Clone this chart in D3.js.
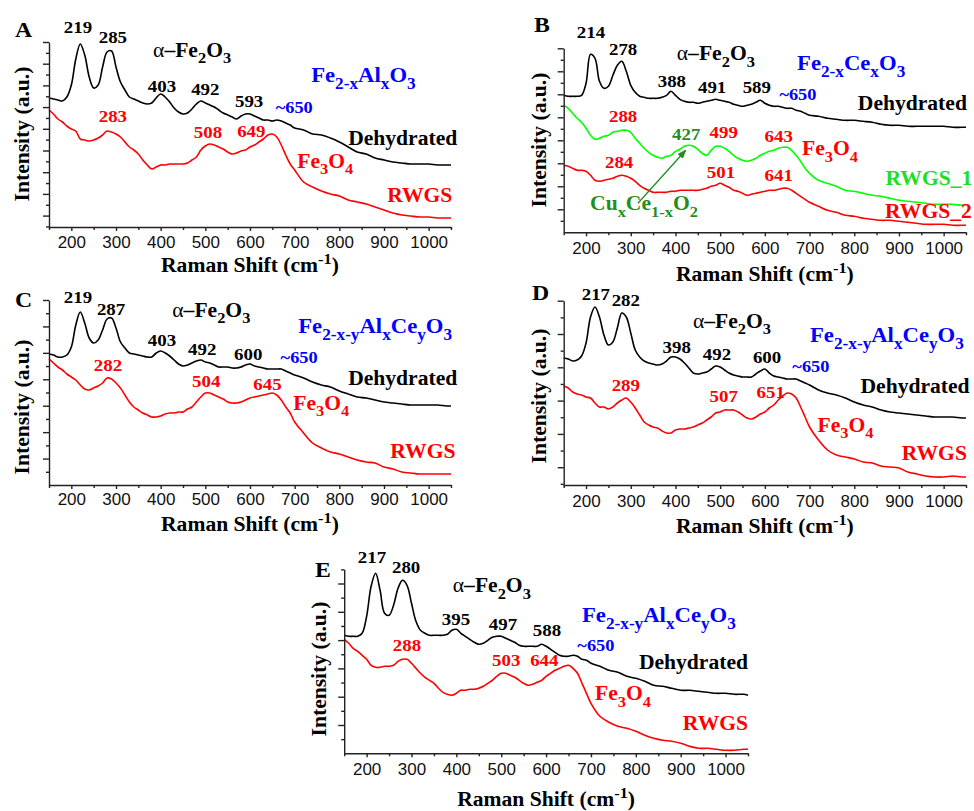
<!DOCTYPE html>
<html>
<head>
<meta charset="utf-8">
<script src="https://cdn.jsdelivr.net/npm/d3@7"></script>
<style>
  body { margin: 0; background: #fff; }
  svg { display: block; }
</style>
</head>
<body>
<svg id="fig" width="974" height="811"></svg>
<script>
// Raman shift grid (cm-1) shared by every spectrum
const shift = [150,160,170,180,190,200,210,220,230,240,250,260,270,280,290,300,310,320,330,340,
  350,360,370,380,390,400,410,420,430,440,450,460,470,480,490,500,510,520,530,540,
  550,560,570,580,590,600,610,620,630,640,650,660,670,680,690,700,
  720,740,760,780,800,820,840,860,880,900,920,940,960,980,1000,1020,1040,1050];

// intensities (a.u.)
const aDry = [129,128,127,126,130,142,168,183,172,150, 139,142,160,175,176,160,145,137,130,128,
  126,124,123,124,129,133,130,125,119,115, 113,114,118,123,126,124,122,120,117,114,
  112,110,108,111,113,113,111,109,107,107, 106,107,106,104,102,99,
  97,93,92,89,85,80,75,73,69,67,65,64,63,63,63,62,62,62];
const aRwgs = [117,113,108,105,101,98,96,88,87,86, 87,89,92,96,95,93,90,85,80,77,
  73,67,62,58,60,62,62,63,63,63, 63,64,67,70,77,81,83,82,80,78,
  75,73,74,76,77,80,82,85,88,92, 93,90,82,72,63,57,
  45,40,36,33,31,27,25,23,20,17,14,12,11,10,10,9,9,9];

const bDry = [137,136,136,136,137,149,178,174,151,144, 146,157,167,171,161,147,140,136,135,134,
  134,134,135,137,141,137,133,131,130,130, 129,130,131,132,133,132,131,130,128,127,
  126,127,128,130,132,129,127,126,126,125, 124,124,122,121,119,117,
  116,114,113,112,112,111,110,108,107,107,106,106,106,106,106,105,105,105];
const bRwgs1 = [127,124,119,114,110,104,97,93,94,96, 97,100,101,102,102,100,94,89,84,80,
  77,75,74,76,77,81,83,86,87,86, 83,79,77,82,86,86,84,81,77,74,
  72,71,72,74,77,79,81,82,84,85, 85,82,77,71,64,59,
  52,49,46,42,41,39,37,36,34,32,31,30,29,28,28,28,27,27];
const bRwgs2 = [67,66,64,62,62,61,57,52,51,52, 53,54,56,57,56,54,51,47,44,42,
  40,40,40,40,41,41,42,42,42,42, 42,43,44,46,47,49,47,45,42,41,
  39,37,38,39,40,41,42,42,43,44, 44,42,39,36,33,30,
  26,22,20,17,16,14,13,12,12,11,10,9,8,8,8,7,7,7];

const cDry = [131,130,128,128,130,138,160,173,162,147, 142,145,155,166,167,157,143,137,132,131,
  130,129,128,128,132,134,132,129,125,121, 119,120,122,124,125,123,122,120,118,118,
  118,117,117,118,120,121,119,118,117,116, 116,116,116,114,112,110,
  107,103,100,98,94,91,88,87,85,83,82,81,80,80,80,80,79,79];
const cRwgs = [126,122,118,115,111,108,105,100,96,95, 97,99,102,107,106,102,97,90,83,78,
  75,72,70,68,68,69,71,72,72,73, 73,76,78,83,88,92,92,90,88,86,
  83,82,82,83,85,87,88,89,90,91, 92,90,85,78,72,63,
  52,42,37,33,31,28,25,23,22,18,16,13,12,11,11,11,11,11];

const dDry = [127,126,124,125,129,142,168,178,168,150, 140,143,157,172,168,152,135,128,124,122,
  121,120,121,124,128,128,126,122,117,112, 111,112,113,116,119,118,115,112,110,109,
  108,108,108,111,114,116,112,109,108,107, 106,106,106,104,102,100,
  95,92,90,87,83,80,78,75,73,72,71,70,69,68,68,68,67,67];
const dRwgs = [99,97,93,91,90,88,87,82,78,78, 76,78,82,85,87,83,77,70,63,60,
  58,57,54,52,52,55,56,56,57,58, 60,62,65,68,72,73,75,75,75,73,
  70,67,66,68,71,73,77,80,85,89, 92,91,87,78,68,58,
  45,35,30,28,26,23,22,19,18,17,13,11,9,8,8,9,8,8];

const eDry = [118,117,117,117,120,137,167,180,163,140, 138,148,165,173,168,150,132,123,120,118,
  118,118,118,119,123,124,120,117,114,111, 109,110,113,116,117,117,115,113,111,108,
  107,107,107,107,109,107,104,101,98,97, 97,98,97,94,93,90,
  87,83,81,77,75,72,68,67,65,63,63,62,61,60,60,59,59,58];
const eRwgs = [114,110,105,102,98,94,88,86,86,87, 87,88,92,94,94,90,85,80,76,73,
  70,65,61,59,58,60,63,63,64,64, 65,67,70,73,77,80,80,78,76,73,
  70,68,69,71,73,77,80,83,85,87, 88,85,80,70,60,50,
  37,31,27,25,22,18,15,13,12,10,7,5,5,4,3,3,4,4];

const xMajor = [200,300,400,500,600,700,800,900,1000];
const xMinor = [150,250,350,450,550,650,750,850,950,1050];

// ---------- styling ----------
const SERIF = "'Liberation Serif','Times New Roman',serif";
const SANS = "'Liberation Sans',Arial,sans-serif";
const BLACK = "#000", RED = "#ff0000", GREEN = "#00ff00", BLUE = "#0000ff",
      DKGREEN = "#1f8f1f", LGREEN = "#22dd22";
const NUM = 17.5, NAME = 20, FORM = 21, TILDE = 17;

const alpha = [["α", "n"], "–Fe", ["2", "sub"], "O", ["3", "sub"]];
const feAl = ["Fe", ["2-x", "sub"], "Al", ["x", "sub"], "O", ["3", "sub"]];
const feCe = ["Fe", ["2-x", "sub"], "Ce", ["x", "sub"], "O", ["3", "sub"]];
const feAlCe = ["Fe", ["2-x-y", "sub"], "Al", ["x", "sub"], "Ce", ["y", "sub"], "O", ["3", "sub"]];
const fe3o4 = ["Fe", ["3", "sub"], "O", ["4", "sub"]];
const cuce = ["Cu", ["x", "sub"], "Ce", ["1-x", "sub"], "O", ["2", "sub"]];

const panels = [
  { id: "A", left: 49, right: 451, top: 42, bottom: 227, yMax: 185, yStep: 21.7, yFrom: "top",
    tickY: 21, xTitleY: 272, yTitleX: 29, yTitleY: 134, letter: [15, 37],
    series: [[aDry, BLACK], [aRwgs, RED]],
    notes: [
      ["219", 215, 194, BLACK, NUM], ["285", 293, 184, BLACK, NUM],
      [alpha, 383, 170, BLACK, NAME, "start"],
      ["403", 403, 135, BLACK, NUM], ["492", 500, 132, BLACK, NUM], ["593", 598, 120, BLACK, NUM],
      ["~650", 699, 114, BLUE, TILDE],
      [feAl, 737, 145, BLUE, FORM, "start"],
      ["Dehydrated", 1064, 82, BLACK, NAME, "end"],
      ["283", 293, 105, RED, NUM], ["508", 506, 89, RED, NUM], ["649", 603, 90, RED, NUM],
      [fe3o4, 706, 59, RED, NAME, "start"],
      ["RWGS", 1053, 25, RED, NAME, "end"]
    ] },
  { id: "B", left: 563.7, right: 966, top: 48.3, bottom: 232.3, yMax: 184, yStep: 23, yFrom: "top",
    tickY: 21.5, xTitleY: 281, yTitleX: 546, yTitleY: 140, letter: [534, 32],
    series: [[bDry, BLACK], [bRwgs1, GREEN], [bRwgs2, RED]],
    notes: [
      ["214", 211, 194, BLACK, NUM], ["278", 283, 177, BLACK, NUM],
      [alpha, 403, 172, BLACK, NAME, "start"],
      [feCe, 672, 162, BLUE, FORM, "start"],
      ["388", 392, 145, BLACK, NUM], ["491", 482, 139, BLACK, NUM], ["589", 582, 139, BLACK, NUM],
      ["~650", 674, 132, BLUE, TILDE],
      ["Dehydrated", 1052, 122, BLACK, NAME, "end"],
      ["288", 283, 110, RED, NUM], ["427", 424, 92, DKGREEN, NUM], ["499", 508, 94, RED, NUM],
      ["643", 631, 90, RED, NUM],
      [fe3o4, 683, 77, RED, NAME, "start"],
      ["RWGS_1", 1064, 47, LGREEN, NAME, "end"],
      ["284", 274, 64, RED, NUM], ["501", 502, 54, RED, NUM], ["641", 631, 51, RED, NUM],
      ["RWGS_2", 1063, 14, RED, NAME, "end"],
      [cuce, 209, 22, DKGREEN, NAME, "start"]
    ],
    arrow: [[316, 29], [423, 82]] },
  { id: "C", left: 49, right: 451, top: 300, bottom: 485, yMax: 185, yStep: 26.43, yFrom: "bottom",
    tickY: 20, xTitleY: 531, yTitleX: 29, yTitleY: 407, letter: [15, 307],
    series: [[cDry, BLACK], [cRwgs, RED]],
    notes: [
      ["219", 215, 182, BLACK, NUM], ["287", 289, 170, BLACK, NUM],
      [alpha, 426, 168, BLACK, NAME, "start"],
      [feAlCe, 708, 152, BLUE, FORM, "start"],
      ["403", 403, 139, BLACK, NUM], ["492", 493, 130, BLACK, NUM], ["600", 596, 125, BLACK, NUM],
      ["~650", 710, 122, BLUE, TILDE],
      ["Dehydrated", 1064, 100, BLACK, NAME, "end"],
      ["282", 282, 114, RED, NUM], ["504", 502, 98, RED, NUM], ["645", 639, 95, RED, NUM],
      [fe3o4, 697, 75, RED, NAME, "start"],
      ["RWGS", 1060, 27, RED, NAME, "end"]
    ] },
  { id: "D", left: 563.7, right: 966, top: 300.7, bottom: 485, yMax: 184.3, yStep: 33.3, yFrom: "top",
    tickY: 22, xTitleY: 533, yTitleX: 546, yTitleY: 396, letter: [532, 300],
    series: [[dDry, BLACK], [dRwgs, RED]],
    notes: [
      ["217", 222, 185, BLACK, NUM], ["282", 289, 179, BLACK, NUM],
      [alpha, 439, 157, BLACK, NAME, "start"],
      [feAlCe, 701, 143, BLUE, FORM, "start"],
      ["398", 403, 132, BLACK, NUM], ["492", 493, 125, BLACK, NUM], ["600", 605, 122, BLACK, NUM],
      ["~650", 703, 113, BLUE, TILDE],
      ["Dehydrated", 1058, 92, BLACK, NAME, "end"],
      ["289", 289, 94, RED, NUM], ["507", 508, 83, RED, NUM], ["651", 613, 87, RED, NUM],
      [fe3o4, 718, 53, RED, NAME, "start"],
      ["RWGS", 1052, 25, RED, NAME, "end"]
    ] },
  { id: "E", left: 344.2, right: 748, top: 569.3, bottom: 753.3, yMax: 184, yStep: 28.3, yFrom: "bottom",
    tickY: 22, xTitleY: 806, yTitleX: 326, yTitleY: 669, letter: [315, 577],
    series: [[eDry, BLACK], [eRwgs, RED]],
    notes: [
      ["217", 212, 190, BLACK, NUM], ["280", 288, 180, BLACK, NUM],
      [alpha, 392, 161, BLACK, NAME, "start"],
      [feAlCe, 680, 131, BLUE, FORM, "start"],
      ["395", 399, 128, BLACK, NUM], ["497", 504, 123, BLACK, NUM], ["588", 602, 117, BLACK, NUM],
      ["~650", 711, 102, BLUE, TILDE],
      ["Dehydrated", 1050, 84, BLACK, NAME, "end"],
      ["288", 290, 102, RED, NUM], ["503", 511, 87, RED, NUM], ["644", 596, 87, RED, NUM],
      [fe3o4, 709, 53, RED, NAME, "start"],
      ["RWGS", 1050, 23, RED, NAME, "end"]
    ] }
];

const svg = d3.select("#fig");
svg.append("rect").attr("width", 974).attr("height", 811).attr("fill", "#fff");

svg.append("defs").append("marker")
  .attr("id", "head").attr("viewBox", "0 0 10 10").attr("refX", 9).attr("refY", 5)
  .attr("markerWidth", 7).attr("markerHeight", 7).attr("orient", "auto")
  .append("path").attr("d", "M0,1 L10,5 L0,9 z").attr("fill", DKGREEN);

// text with sub/superscripts, slightly widened like the original scan
function rich(g, x, y, parts, o) {
  const fs = o.size;
  const t = g.append("text")
    .attr("transform", `translate(${x},${y})${o.rotate ? " rotate(-90)" : ""} scale(${o.sx || 1.08},1)`)
    .attr("font-family", o.family || SERIF)
    .attr("font-weight", "bold")
    .attr("font-size", fs)
    .attr("fill", o.color || BLACK)
    .attr("text-anchor", o.anchor || "start");
  let cur = 0;
  (typeof parts === "string" ? [parts] : parts).forEach(p => {
    const [s, kind] = Array.isArray(p) ? p : [p];
    const target = kind === "sub" ? fs * 0.32 : kind === "sup" ? -fs * 0.42 : 0;
    const ts = t.append("tspan").text(s).attr("dy", target - cur);
    if (kind === "sub" || kind === "sup") ts.attr("font-size", fs * 0.76);
    if (kind === "n") ts.attr("font-weight", "normal");
    cur = target;
  });
  return t;
}

function yTicks(p) {
  const major = [], minor = [];
  if (p.yFrom === "top") {
    for (let v = p.yMax; v > 0.5; v -= p.yStep) major.push(v);
    major.forEach(v => { if (v - p.yStep / 2 >= -0.5) minor.push(Math.max(v - p.yStep / 2, 0)); });
  } else {
    for (let v = p.yStep; v <= p.yMax + 0.5; v += p.yStep) major.push(v);
    for (let v = p.yStep / 2; v <= p.yMax + 0.5; v += p.yStep) minor.push(v);
  }
  return [major, minor];
}

function drawPanel(p) {
  const x = d3.scaleLinear().domain([150, 1050]).range([p.left, p.right]);
  const y = d3.scaleLinear().domain([0, p.yMax]).range([p.bottom, p.top]);
  const g = svg.append("g").attr("class", "panel-" + p.id);

  const line = d3.line()
    .x((d, i) => x(shift[i]))
    .y(d => y(d))
    .curve(d3.curveCatmullRom.alpha(0.5));

  p.series.forEach(([vals, col]) => {
    g.append("path")
      .attr("d", line(vals))
      .attr("fill", "none")
      .attr("stroke", col)
      .attr("stroke-width", 1.6)
      .attr("stroke-linejoin", "round");
  });

  // axes
  const [yMaj, yMin] = yTicks(p);
  const styleAxis = a => a.selectAll("path,line").attr("stroke", "#222").attr("stroke-width", 1.4);

  const xa = g.append("g").attr("transform", `translate(0,${p.bottom})`)
    .call(d3.axisBottom(x).tickValues(xMajor).tickSize(4).tickSizeOuter(0).tickFormat(d3.format("d")));
  styleAxis(xa);
  xa.attr("font-family", SANS).attr("font-size", 17);
  xa.selectAll("text").attr("y", p.tickY).attr("dy", null).attr("fill", "#111");

  const xm = g.append("g").attr("transform", `translate(0,${p.bottom})`)
    .call(d3.axisBottom(x).tickValues(xMinor).tickSize(3).tickFormat(""));
  xm.select(".domain").remove();
  styleAxis(xm);

  const ya = g.append("g").attr("transform", `translate(${p.left},0)`)
    .call(d3.axisLeft(y).tickValues(yMaj).tickSize(6).tickSizeOuter(0).tickFormat(""));
  styleAxis(ya);
  const ym = g.append("g").attr("transform", `translate(${p.left},0)`)
    .call(d3.axisLeft(y).tickValues(yMin).tickSize(3).tickFormat(""));
  ym.select(".domain").remove();
  styleAxis(ym);

  // titles
  rich(g, (p.left + p.right) / 2, p.xTitleY,
    ["Raman Shift (cm", ["-1", "sup"], ")"], { size: 20, anchor: "middle" });
  rich(g, p.yTitleX, p.yTitleY, "Intensity (a.u.)", { size: 20, anchor: "middle", rotate: true });
  rich(g, p.letter[0], p.letter[1], p.id, { size: 22 });

  // annotations
  p.notes.forEach(([t, nx, ny, col, size, anchor]) => {
    rich(g, x(nx), y(ny), t, { size: size, color: col, anchor: anchor || "middle" });
  });

  if (p.arrow) {
    g.append("line")
      .attr("x1", x(p.arrow[0][0])).attr("y1", y(p.arrow[0][1]))
      .attr("x2", x(p.arrow[1][0])).attr("y2", y(p.arrow[1][1]))
      .attr("stroke", DKGREEN).attr("stroke-width", 1.3)
      .attr("marker-end", "url(#head)");
  }
}

panels.forEach(drawPanel);
</script>
</body>
</html>
